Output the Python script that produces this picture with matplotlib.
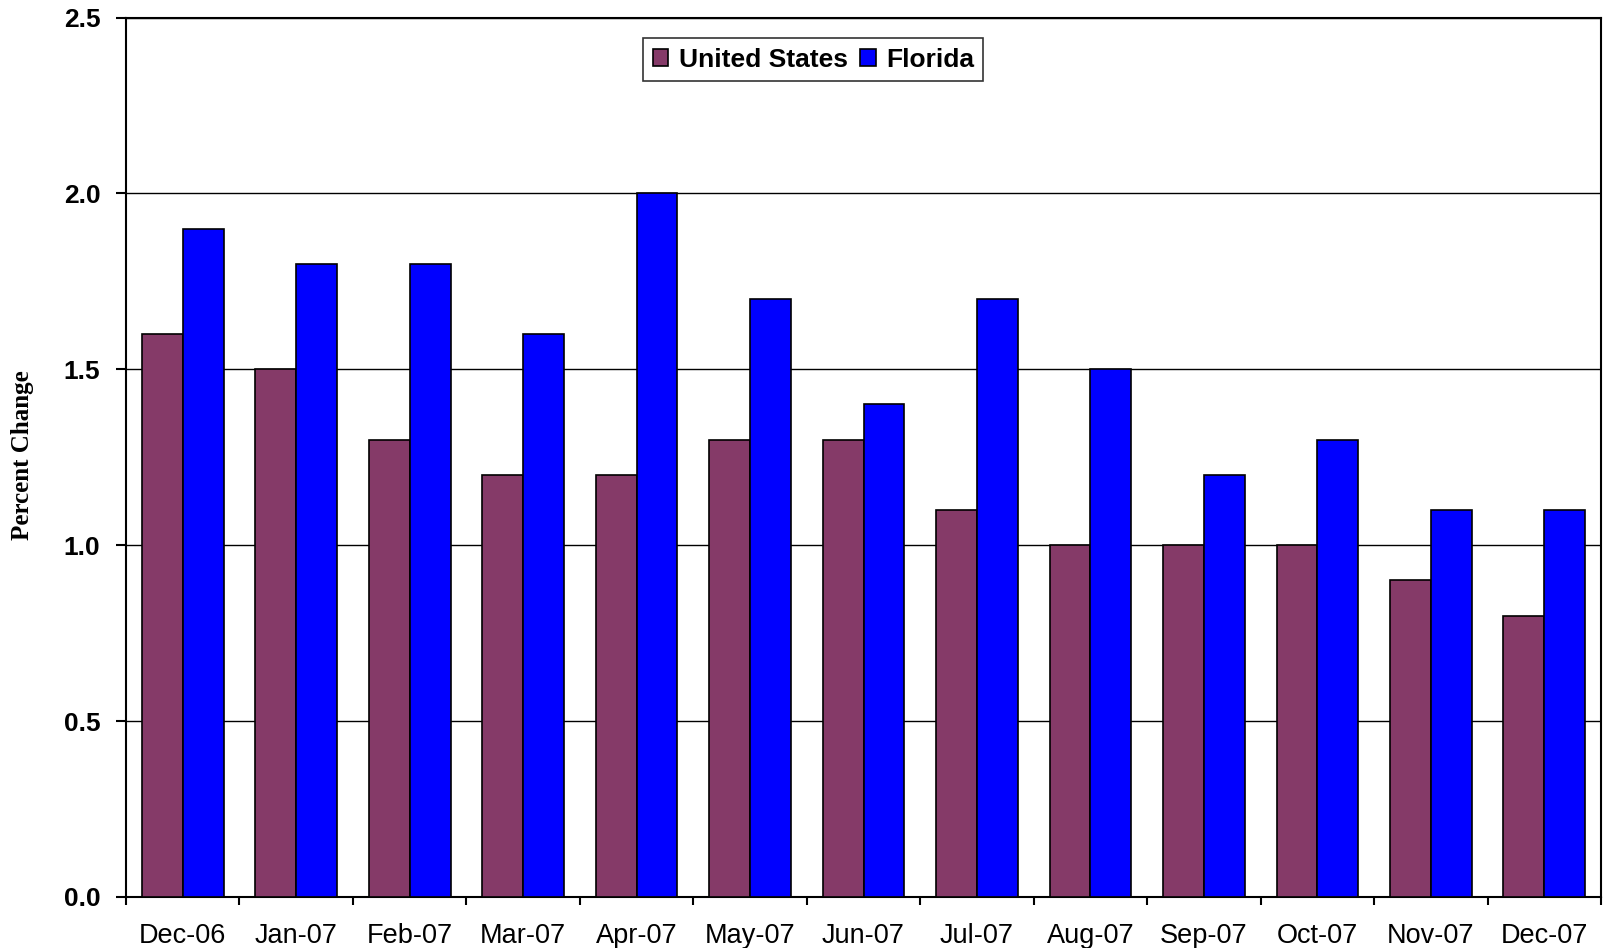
import matplotlib.pyplot as plt
import numpy as np

months = ["Dec-06", "Jan-07", "Feb-07", "Mar-07", "Apr-07", "May-07", "Jun-07",
          "Jul-07", "Aug-07", "Sep-07", "Oct-07", "Nov-07", "Dec-07"]
us = [1.6, 1.5, 1.3, 1.2, 1.2, 1.3, 1.3, 1.1, 1.0, 1.0, 1.0, 0.9, 0.8]
florida = [1.9, 1.8, 1.8, 1.6, 2.0, 1.7, 1.4, 1.7, 1.5, 1.2, 1.3, 1.1, 1.1]

fig = plt.figure(figsize=(16.03, 9.48), dpi=100)
ax = fig.add_axes([126 / 1603, 1 - 897 / 948, 1475 / 1603, 879.5 / 948])

x = np.arange(len(months))
w = 0.36
ax.bar(x - w / 2, us, w, color="#853a68", edgecolor="black", linewidth=1.2,
       label="United States", zorder=3)
ax.bar(x + w / 2, florida, w, color="#0000ff", edgecolor="black", linewidth=1.2,
       label="Florida", zorder=3)

ax.set_xlim(-0.5, len(months) - 0.5)
ax.set_ylim(0, 2.5)
ax.set_yticks(np.arange(0, 2.51, 0.5))
ax.set_yticklabels([f"{v:.1f}" for v in np.arange(0, 2.51, 0.5)],
                   fontsize=19, fontweight="bold", family="Liberation Sans")
ax.yaxis.grid(True, color="black", linewidth=1)
ax.set_axisbelow(True)

ax.set_xticks(x)
ax.set_xticklabels(months, fontsize=19.5, family="Liberation Sans")
ax.tick_params(axis="x", which="major", length=0, pad=18.5)
ax.set_xticks(np.arange(-0.5, len(months), 1), minor=True)
ax.tick_params(axis="x", which="minor", length=6, width=1.5)
ax.tick_params(axis="y", length=7.5, width=1.5, pad=11)

for s in ax.spines.values():
    s.set_linewidth(1.5)
    s.set_color("black")

fig.text(23 / 1603, 1 - 455 / 948, "Percent Change", rotation=90,
         ha="center", va="center", fontsize=18, fontweight="bold",
         family="Liberation Serif")

leg = ax.legend(loc="center", bbox_to_anchor=(0.466, 0.952), ncol=2,
                prop={"family": "Liberation Sans", "weight": "bold", "size": 19},
                frameon=True, fancybox=False, edgecolor="black",
                handlelength=0.6, handleheight=0.6, handletextpad=0.4,
                columnspacing=0.45, borderpad=0.35)
leg.get_frame().set_linewidth(1.2)

fig.savefig("out.png", dpi=100)
